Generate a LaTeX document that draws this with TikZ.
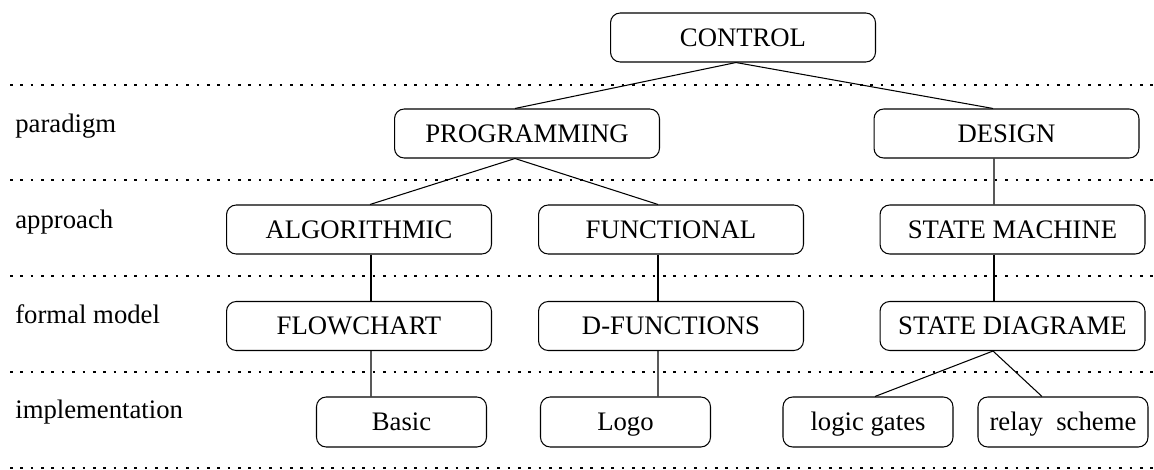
\documentclass[tikz,border=0pt]{standalone}
\usepackage{fontspec}
\setmainfont{Liberation Serif}
\usepackage{tikz}
\usetikzlibrary{calc}
\tikzstyle{bigbox}=[rectangle,draw,rounded corners=5.5pt,line width=0.6pt,minimum width=5.3cm,minimum height=0.98cm,inner sep=0pt,text height=11pt,text depth=1pt]
\tikzstyle{smallbox}=[bigbox,minimum width=3.4cm,minimum height=1cm]
\tikzstyle{lvl}=[anchor=base west,inner sep=0pt]
\tikzstyle{dotline}=[line width=1.5pt,dash pattern=on 1.5pt off 4.4pt]
\tikzstyle{conn}=[line width=0.6pt]

\begin{document}
\begin{tikzpicture}[x=0.02cm,y=-0.02cm,font=\fontsize{15.2}{18}\selectfont]
\useasboundingbox (0,0) rectangle (1154,470);

%level separators
\foreach \y in {85,180,276,372,468} {
\draw[dotline] (10,\y) -- (1154,\y);
}

%level names
\node[lvl] (lpar) at (15,132) {paradigm};
\node[lvl] (lapp) at (15,228) {approach};
\node[lvl] (lmod) at (15,323) {formal model};
\node[lvl] (limp) at (15,418) {implementation};

%tree
\node[bigbox] (ctrl) at (743,37.5) {CONTROL};

\node[bigbox] (prog) at (527,133.5) {PROGRAMMING};
\node[bigbox] (design) at (1006.5,133.5) {DESIGN};

\node[bigbox] (algo) at (359,229.5) {ALGORITHMIC};
\node[bigbox] (func) at (671,229.5) {FUNCTIONAL};
\node[bigbox] (smach) at (1012.5,229.5) {STATE MACHINE};

\node[bigbox] (flow) at (359,326) {FLOWCHART};
\node[bigbox] (dfun) at (671,326) {D-FUNCTIONS};
\node[bigbox] (sdiag) at (1012.5,326) {STATE DIAGRAME};

\node[smallbox] (basic) at (401.5,422) {Basic};
\node[smallbox] (logo) at (625.5,422) {Logo};
\node[smallbox] (gates) at (868,422) {logic gates};
\node[smallbox] (relay) at (1063,422) {relay\ \ scheme};

%links
\draw[conn] ([xshift=-0.14cm]ctrl.south) -- ([xshift=-0.24cm]prog.north);
\draw[conn] ([xshift=-0.14cm]ctrl.south) -- ([xshift=-0.27cm]design.north);
\draw[conn] ([xshift=-0.24cm]prog.south) -- ([xshift=0.22cm]algo.north);
\draw[conn] ([xshift=-0.24cm]prog.south) -- ([xshift=-0.26cm]func.north);
\draw[conn] ([xshift=-0.25cm]design.south) -- ([xshift=-0.37cm]smach.north);
\draw[conn] ([xshift=0.24cm]algo.south) -- ([xshift=0.24cm]flow.north);
\draw[conn] ([xshift=-0.26cm]func.south) -- ([xshift=-0.26cm]dfun.north);
\draw[conn] ([xshift=-0.37cm]smach.south) -- ([xshift=-0.37cm]sdiag.north);
\draw[conn] ([xshift=0.24cm]flow.south) -- ([xshift=-0.61cm]basic.north);
\draw[conn] ([xshift=-0.26cm]dfun.south) -- ([xshift=0.65cm]logo.north);
\draw[conn] ([xshift=-0.39cm]sdiag.south) -- ([xshift=0.14cm]gates.north);
\draw[conn] ([xshift=-0.39cm]sdiag.south) -- ([xshift=-0.42cm]relay.north);

\end{tikzpicture}
\end{document}
